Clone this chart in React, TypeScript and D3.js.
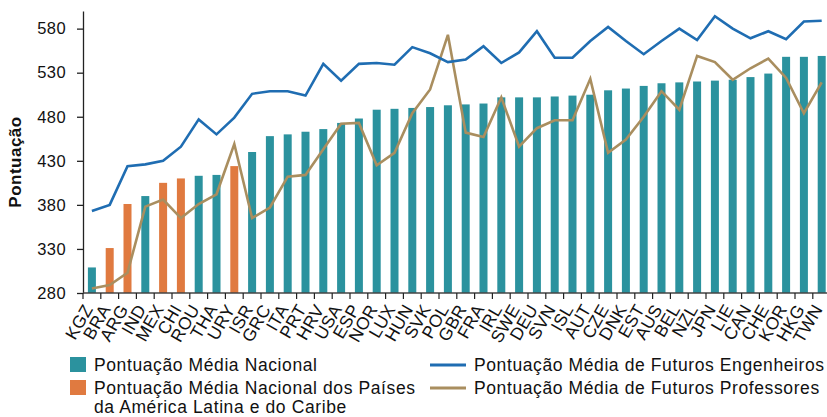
import React, { useRef, useEffect } from "react";
import * as d3 from "d3";

const countries = [
  "KGZ", "BRA", "ARG", "IND", "MEX", "CHI", "ROU", "THA", "URY", "ISR", "GRC",
  "ITA", "PRT", "HRV", "USA", "ESP", "NOR", "LUX", "HUN", "SVK", "POL", "GBR",
  "FRA", "IRL", "SWE", "DEU", "SVN", "ISL", "AUT", "CZE", "DNK", "EST", "AUS",
  "BEL", "NZL", "JPN", "LIE", "CAN", "CHE", "KOR", "HKG", "TWN",
];

// Latin America & Caribbean countries (orange bars)
const latinAmerica = ["BRA", "ARG", "MEX", "CHI", "URY"];

const nationalMean = [
  309, 331, 381, 390, 405, 410, 413, 414, 424, 440, 458, 460, 463, 466, 473,
  478, 488, 489, 490, 491, 493, 494, 495, 502, 502, 502, 503, 504, 505, 510,
  512, 515, 518, 519, 520, 521, 522, 525, 529, 548, 548, 549,
];

const engineers = [
  373, 380, 424, 426, 430, 446, 477, 460, 479, 506, 509, 509, 504, 540, 521,
  540, 541, 539, 559, 552, 542, 545, 560, 541, 553, 577, 547, 547, 566, 582,
  566, 551, 566, 580, 567, 594, 580, 569, 577, 568, 588, 589,
];

const teachers = [
  285, 289, 303, 378, 386, 365, 381, 392, 449, 365, 377, 412, 414, 443, 472,
  473, 425, 439, 484, 511, 573, 462, 457, 502, 446, 467, 476, 476, 523, 439,
  454, 480, 509, 488, 549, 542, 522, 535, 546, 524, 484, 519,
];

const yTicks = [280, 330, 380, 430, 480, 530, 580];

const legendLeft = [
  { label: ["Pontuação Média Nacional"], color: "#2b929e" },
  {
    label: ["Pontuação Média Nacional dos Países", "da América Latina e do Caribe"],
    color: "#e07a40",
  },
];
const legendRight = [
  { label: "Pontuação Média de Futuros Engenheiros", color: "#1f6db2" },
  { label: "Pontuação Média de Futuros Professores", color: "#a98e5f" },
];

const App = () => {
  const svgRef = useRef<SVGSVGElement>(null);

  useEffect(() => {
    const width = 827;
    const height = 417;
    const margin = { top: 11, left: 83, bottom: 293 };
    const font = "'Liberation Sans', Arial, Helvetica, sans-serif";

    const svg = d3.select(svgRef.current);
    svg.selectAll("*").remove();
    svg.attr("width", width).attr("height", height);

    const x = d3
      .scaleBand()
      .domain(countries)
      .range([margin.left, margin.left + 17.8 * countries.length]);

    const y = d3.scaleLinear().domain([280, 600]).range([margin.bottom, margin.top]);

    const barW = 8;
    const cx = (c: string) => (x(c) as number) + x.bandwidth() / 2;

    // bars
    svg
      .append("g")
      .selectAll("rect")
      .data(countries)
      .join("rect")
      .attr("x", (c) => cx(c) - barW / 2)
      .attr("y", (c, i) => y(nationalMean[i]))
      .attr("width", barW)
      .attr("height", (c, i) => y(280) - y(nationalMean[i]))
      .attr("fill", (c) => (latinAmerica.includes(c) ? "#e07a40" : "#2b929e"));

    // lines
    const line = d3
      .line<number>()
      .x((d, i) => cx(countries[i]))
      .y((d) => y(d));

    svg
      .append("path")
      .datum(teachers)
      .attr("d", line)
      .attr("fill", "none")
      .attr("stroke", "#a98e5f")
      .attr("stroke-width", 2.6);

    svg
      .append("path")
      .datum(engineers)
      .attr("d", line)
      .attr("fill", "none")
      .attr("stroke", "#1f6db2")
      .attr("stroke-width", 2.6);

    // y axis
    const yAxis = svg
      .append("g")
      .attr("transform", `translate(${margin.left}, 0)`)
      .call(d3.axisLeft(y).tickValues(yTicks).tickSize(6).tickSizeOuter(0).tickPadding(11));
    yAxis.select(".domain").attr("stroke", "#222").attr("stroke-width", 1.3);
    yAxis.selectAll(".tick line").attr("stroke", "#222").attr("stroke-width", 1.3);
    yAxis
      .selectAll(".tick text")
      .attr("font-family", font)
      .attr("font-size", 16.5)
      .attr("letter-spacing", 0.4)
      .attr("fill", "#111");

    // x axis, ticks between bands
    const xg = svg.append("g");
    xg.append("line")
      .attr("x1", margin.left)
      .attr("x2", width)
      .attr("y1", margin.bottom)
      .attr("y2", margin.bottom)
      .attr("stroke", "#444")
      .attr("stroke-width", 1.6);
    xg.selectAll("line.tk")
      .data(countries)
      .join("line")
      .attr("class", "tk")
      .attr("x1", (c) => x(c) as number)
      .attr("x2", (c) => x(c) as number)
      .attr("y1", margin.bottom)
      .attr("y2", margin.bottom + 6)
      .attr("stroke", "#222")
      .attr("stroke-width", 1.2);
    xg.selectAll("text")
      .data(countries)
      .join("text")
      .attr("transform", (c) => `translate(${cx(c) + 1.5}, ${margin.bottom + 16}) rotate(-60)`)
      .attr("text-anchor", "end")
      .attr("font-family", font)
      .attr("font-size", 17.5)
      .attr("letter-spacing", 0.3)
      .attr("fill", "#111")
      .text((c) => c);

    // y title
    svg
      .append("text")
      .attr("transform", `translate(21, 162) rotate(-90)`)
      .attr("text-anchor", "middle")
      .attr("font-family", font)
      .attr("font-weight", "bold")
      .attr("font-size", 17)
      .attr("letter-spacing", 0.5)
      .attr("fill", "#111")
      .text("Pontuação");

    // legend
    const lg = svg
      .append("g")
      .attr("font-family", font)
      .attr("font-size", 17.5)
      .attr("letter-spacing", 0.6)
      .attr("fill", "#111");
    legendLeft.forEach((item, i) => {
      const yy = 365 + i * 23;
      lg.append("rect")
        .attr("x", 70)
        .attr("y", yy - 8)
        .attr("width", 16)
        .attr("height", 15)
        .attr("fill", item.color);
      item.label.forEach((t, j) => {
        lg.append("text")
          .attr("x", 94)
          .attr("y", yy + j * 19)
          .attr("dy", "0.35em")
          .text(t);
      });
    });
    legendRight.forEach((item, i) => {
      const yy = 365 + i * 23;
      lg.append("line")
        .attr("x1", 430)
        .attr("x2", 466)
        .attr("y1", yy)
        .attr("y2", yy)
        .attr("stroke", item.color)
        .attr("stroke-width", 3);
      lg.append("text")
        .attr("x", 474)
        .attr("y", yy)
        .attr("dy", "0.35em")
        .text(item.label);
    });
  }, []);

  return (
    <div style={{ position: "absolute", left: 0, top: 0 }}>
      <svg ref={svgRef}></svg>
    </div>
  );
};

export default App;
